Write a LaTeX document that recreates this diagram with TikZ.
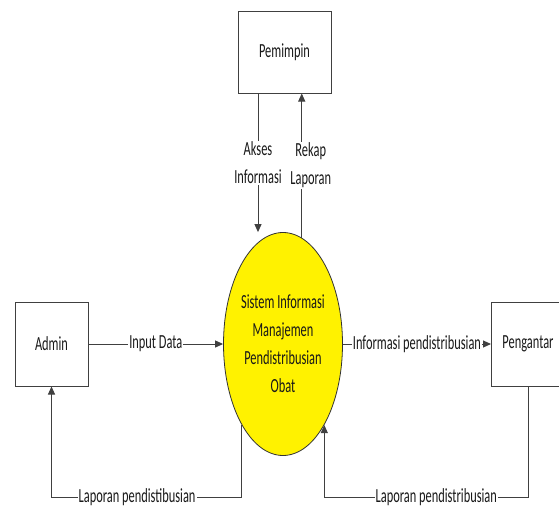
\documentclass[tikz,border=0pt]{standalone}
\usepackage{fontspec}
\setmainfont{Carlito}[FakeStretch=0.62]
\usetikzlibrary{shapes.geometric,arrows.meta}
\begin{document}
\begin{tikzpicture}[x=1pt,y=-1pt,
  every node/.style={font=\fontsize{20}{28}\selectfont, text=black!90},
  ent/.style={draw=black!75, line width=1pt, minimum width=73pt, minimum height=84pt, inner sep=0pt, fill=white},
  proc/.style={ellipse, draw=black!80, fill=yellow, line width=0.8pt, minimum width=119pt, minimum height=223pt, inner sep=0pt, align=center},
  flow/.style={draw=black!75, line width=1pt, -{Triangle[length=8pt,width=7pt]}},
  lbl/.style={fill=white, inner sep=1pt, align=center}]
\useasboundingbox[fill=white] (0,0) rectangle (559,506);
\node[ent, minimum width=93pt, minimum height=82pt] (pem) at (284.5,52) {Pemimpin};
\node[ent] (adm) at (51.5,344) {Admin};
\node[ent] (peng) at (528,344) {Pengantar};
\node[proc] (sys) at (283,344) {Sistem Informasi\\Manajemen\\Pendistribusian\\Obat};
\coordinate (akx) at (258,0);
\coordinate (lowL) at (0,497);
\draw[flow] (pem.south -| akx) -- node[lbl]{Akses\\Informasi} (akx |- sys.north);
\draw[flow] (sys.80.4) -- node[lbl, xshift=9pt]{Rekap\\Laporan} (sys.80.4 |- pem.south);
\draw[flow] (adm.east) -- node[lbl]{Input Data} (sys.west);
\draw[flow] (sys.east) -- node[lbl]{Informasi pendistribusian} (peng.west);
\draw[flow] (sys.243) -- (sys.243 |- lowL) -- node[lbl, pos=0.55]{Laporan pendistibusian} (adm.south |- lowL) -- (adm.south);
\draw[flow] (peng.south) -- (peng.south |- lowL) -- node[lbl, pos=0.45]{Laporan pendistribusian} (sys.297 |- lowL) -- (sys.297);
\end{tikzpicture}
\end{document}
